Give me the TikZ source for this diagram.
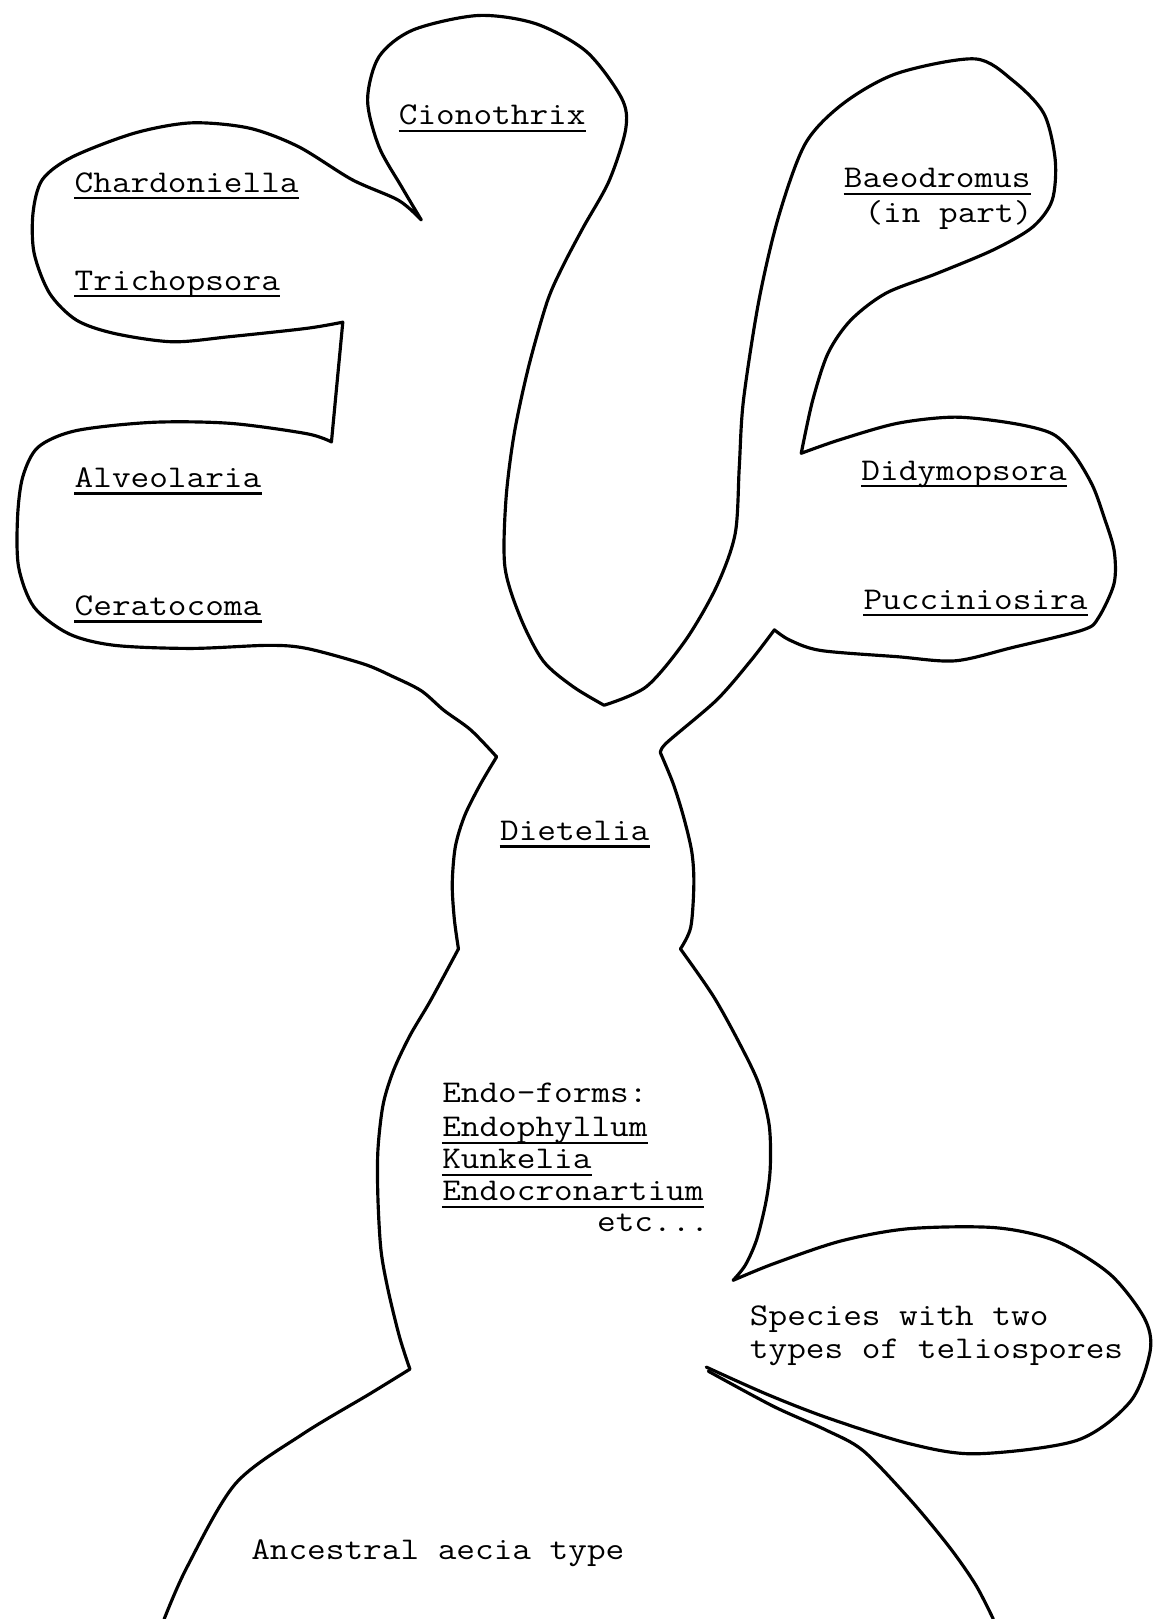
\documentclass[tikz,border=0pt]{standalone}
\usepackage{fontspec}
\setmonofont{Latin Modern Mono}[FakeStretch=1.145]

\begin{document}
\begin{tikzpicture}[x=0.02064cm, y=-0.02064cm,
    every node/.style={font=\ttfamily\fontsize{18}{18}\selectfont, inner sep=0pt, anchor=base west},
    outline/.style={line width=1.8pt, line join=round, line cap=round},
    uline/.style={line width=1.3pt}]
  \useasboundingbox (0,0) rectangle (1119,1568);
  % outline, from the bottom left up and round to the species lobe
  \draw[outline]
    plot[smooth] coordinates {(159,1568) (181,1518) (228,1437) (293,1389) (358,1350) (397,1326)}
    -- plot[smooth] coordinates {(397,1326) (387,1295) (376,1250) (369,1211) (366,1160) (366,1114) (371,1070) (381,1037) (397,1003) (417,969) (444,919)}
    -- plot[smooth] coordinates {(444,919) (440,890) (438,856) (441,820) (450,790) (465,760) (481,733)}
    -- plot[smooth] coordinates {(481,733) (456,707) (430,688) (408,669) (380,655) (352,643) (297,628) (260,625) (185,628) (111,625) (67,614) (33,588) (18,549) (17,501) (22,462) (37,433) (74,417) (148,409) (223,410) (297,420) (321,428)}
    -- (332,312)
    -- plot[smooth] coordinates {(332,312) (297,318) (223,326) (167,331) (111,323) (74,310) (48,284) (33,245) (32,206) (41,174) (70,152) (130,129) (185,119) (241,124) (289,142) (341,174) (386,194) (408,213)}
    -- plot[smooth] coordinates {(408,213) (389,181) (367,142) (356,97) (367,55) (400,29) (463,15) (519,23) (568,50) (602,95) (606,125) (590,175) (565,220) (545,258) (530,292) (512,355) (498,420) (490,484) (489,549) (504,598) (526,640) (555,665) (585,683)}
    -- plot[smooth] coordinates {(585,683) (626,665) (664,620) (694,568) (712,517) (716,452) (720,388) (735,291) (754,210) (780,139) (817,100) (869,71) (944,57) (981,78) (1011,110) (1022,155) (1019,194) (1000,220) (962,242) (907,265) (858,284) (824,310) (802,342) (787,388) (776,439)}
    -- plot[smooth] coordinates {(776,439) (813,426) (869,410) (925,404) (981,410) (1019,420) (1040,440) (1058,470) (1069,500) (1079,533) (1079,565) (1064,598) (1049,610) (981,627) (925,640) (869,636) (795,630) (765,620) (750,610)}
    -- plot[smooth] coordinates {(750,610) (727,640) (694,678) (645,720) (640,730)}
    -- plot[smooth] coordinates {(640,730) (652,759) (662,791) (670,825) (672,856) (669,898) (659,919)}
    -- plot[smooth] coordinates {(659,919) (691,965) (717,1012) (735,1050) (745,1090) (746,1131) (742,1163) (733,1200) (722,1225) (710,1240)}
    -- plot[smooth] coordinates {(710,1240) (749,1224) (814,1202) (880,1190) (964,1189) (1023,1202) (1075,1234) (1108,1276) (1114,1308) (1095,1357) (1043,1395) (945,1408) (880,1398) (801,1373) (742,1350) (684,1324)};
  % right side of the trunk
  \draw[outline] plot[smooth] coordinates {(686,1328) (749,1362) (800,1385) (836,1405) (882,1453) (920,1499) (945,1535) (962,1568)};

  \node (cionothrix) at (386,121) {Cionothrix};
  \node (chardoniella) at (72,186) {Chardoniella};
  \node (trichopsora) at (72,281) {Trichopsora};
  \node (alveolaria) at (72,472) {Alveolaria};
  \node (ceratocoma) at (72,596) {Ceratocoma\ };
  \node (baeodromus) at (817,182) {Baeodromus};
  \node (inpart) at (837,215) {(in part)};
  \node (didymopsora) at (834,465) {Didymopsora};
  \node (pucciniosira) at (836,590) {Pucciniosira};
  \node (dietelia) at (484,814) {Dietelia};
  \node (endoforms) at (428,1068) {Endo-forms:};
  \node (endophyllum) at (428,1101) {Endophyllum};
  \node (kunkelia) at (428,1132) {Kunkelia\ };
  \node (endocronartium) at (428,1163) {Endocronartium};
  \node (etc) at (578,1193) {etc...};
  \node (species) at (726,1284) {Species with two};
  \node (types) at (726,1316) {types of teliospores};
  \node (ancestral) at (243,1510) {Ancestral aecia type};

  \foreach \n in {cionothrix,chardoniella,trichopsora,alveolaria,ceratocoma,baeodromus,didymopsora,pucciniosira,dietelia,endophyllum,kunkelia,endocronartium}
    \draw[uline] ([yshift=-0.12cm]\n.base west) -- ([yshift=-0.12cm]\n.base east);
\end{tikzpicture}
\end{document}
